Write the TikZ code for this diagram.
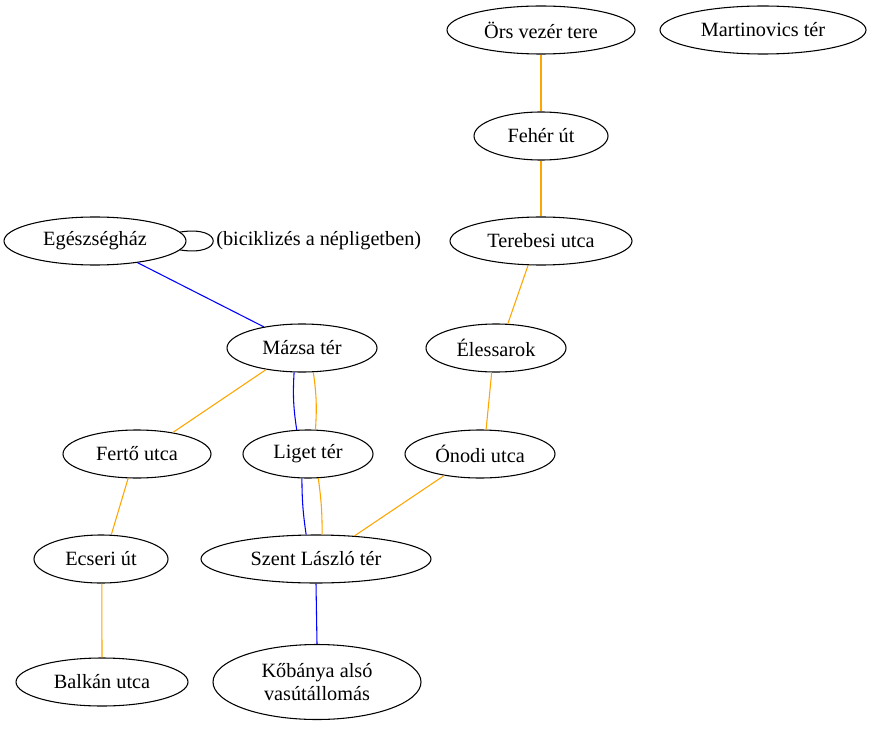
\documentclass[tikz,border=0pt]{standalone}
\usepackage{fontspec}
\setmainfont{Liberation Serif}
\usetikzlibrary{shapes.geometric}
\definecolor{gvorange}{HTML}{FFA500}
\definecolor{gvblue}{HTML}{0000FF}
\begin{document}
\begin{tikzpicture}[x=0.75pt,y=-0.75pt,
  station/.style={ellipse,draw=black,line width=0.8pt,inner sep=0pt,minimum height=36pt,
    font=\fontsize{15.2pt}{17.5pt}\selectfont,align=center},
  lbl/.style={inner sep=0pt,font=\fontsize{15.2pt}{17.5pt}\selectfont},
  oline/.style={draw=gvorange,line width=0.8pt},
  bline/.style={draw=gvblue,line width=0.8pt}]
\useasboundingbox (0,0) rectangle (873,734);
\node[station,minimum width=141pt] (ors) at (541,30) {Örs vezér tere};
\node[station,minimum width=154.5pt] (mart) at (763,30) {Martinovics tér};
\node[station,minimum width=100.5pt] (feher) at (541,136) {Fehér út};
\node[station,minimum width=136.5pt] (tereb) at (541,241) {Terebesi utca};
\node[station,minimum width=136.5pt] (egh) at (95,241) {Egészségház};
\node[lbl,anchor=west] (loopl) at (216,241) {(biciklizés a népligetben)};
\node[station,minimum width=112.5pt] (mazsa) at (302,348) {Mázsa tér};
\node[station,minimum width=105pt] (eles) at (496,348) {Élessarok};
\node[station,minimum width=111pt] (ferto) at (137,454) {Fertő utca};
\node[station,minimum width=97.5pt] (liget) at (308,454) {Liget tér};
\node[station,minimum width=112.5pt] (onodi) at (480,454) {Ónodi utca};
\node[station,minimum width=100.5pt] (ecseri) at (101,559) {Ecseri út};
\node[station,minimum width=172.5pt] (szent) at (316,559) {Szent László tér};
\node[station,minimum width=129pt] (balkan) at (102,682) {Balkán utca};
\node[station,minimum width=156pt,minimum height=56.25pt] (kob) at (317,682) {Kőbánya alsó\\vasútállomás};

\draw[oline] (ors.south) -- (feher.north);
\draw[oline] (feher.south) -- (tereb.north);
\draw[oline] (tereb.242.5) -- (eles.64.4);
\draw[oline] (eles.260.5) -- (onodi.76);
\draw[oline] (onodi.211.9) -- (szent.31.6);
\draw[bline] (egh.333.4) -- (mazsa.151.3);
\draw[oline] (mazsa.211.9) -- (ferto.31.2);
\draw[oline] (ferto.250.2) -- (ecseri.67.4);
\draw[oline] (ecseri.272) -- (balkan.90);
\draw[bline] (mazsa.252.3) to[bend right=6] (liget.115.6);
\draw[oline] (mazsa.295.6) to[bend left=6] (liget.73.1);
\draw[bline] (liget.256.5) to[bend right=4] (szent.112.6);
\draw[oline] (liget.293.7) to[bend left=4] (szent.76);
\draw[bline] (szent.south) -- (kob.north);
\draw[line width=0.8pt] (egh.6) .. controls +(44,-7) and +(44,7) .. (egh.-6);
\end{tikzpicture}
\end{document}
